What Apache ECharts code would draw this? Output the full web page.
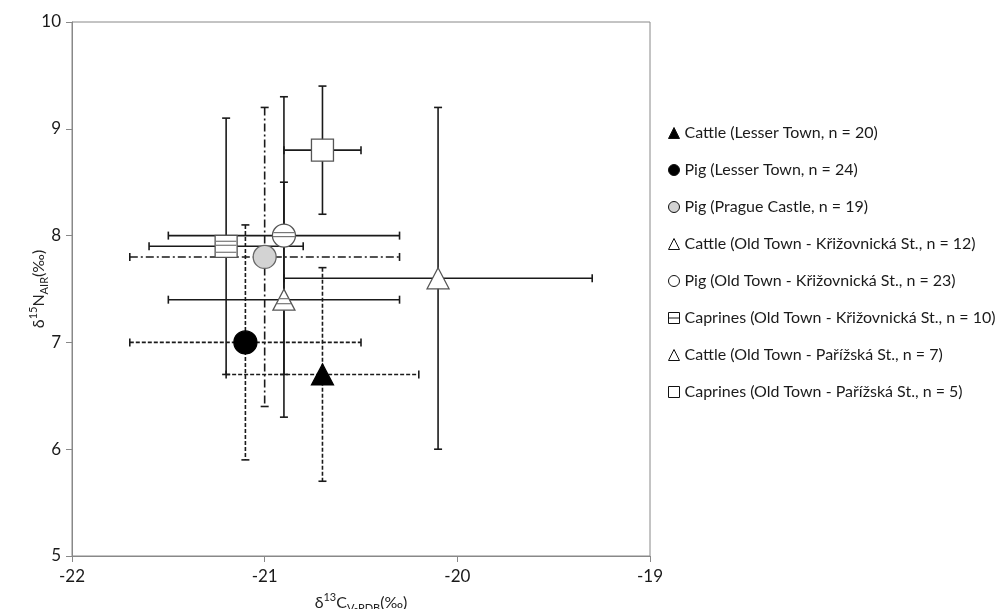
<!DOCTYPE html>
<html>
<head>
<meta charset="utf-8">
<script src="https://cdn.jsdelivr.net/npm/echarts@6/dist/echarts.min.js"></script>
<style>html,body{margin:0;padding:0;background:#fff}#c{width:1005px;height:609px}</style>
</head>
<body>
<div id="c"></div>
<script>
// ---- data ----
const groupNames = [
  'Cattle (Lesser Town, n = 20)',
  'Pig (Lesser Town, n = 24)',
  'Pig (Prague Castle, n = 19)',
  'Cattle (Old Town - Křižovnická St., n = 12)',
  'Pig (Old Town - Křižovnická St., n = 23)',
  'Caprines (Old Town - Křižovnická St., n = 10)',
  'Cattle (Old Town - Pařížská St., n = 7)',
  'Caprines (Old Town - Pařížská St., n = 5)'
];
const d13C   = [-20.7, -21.1, -21.0, -20.9, -20.9, -21.2, -20.1, -20.7];
const d15N   = [6.7, 7.0, 7.8, 7.4, 8.0, 7.9, 7.6, 8.8];
const sdC    = [0.5, 0.6, 0.7, 0.6, 0.6, 0.4, 0.8, 0.2];
const sdN    = [1.0, 1.1, 1.4, 1.1, 1.3, 1.2, 1.6, 0.6];
const xTicks = [-22, -21, -20, -19];
const yTicks = [5, 6, 7, 8, 9, 10];

// ---- styles (not data) ----
const FONT = 'Lato';
const styles = [
  {shape:'triangle', fill:'#000', stroke:'#000', dash:[4,2], stripes:false, icon:'triangle'},
  {shape:'circle',   fill:'#000', stroke:'#000', dash:[4,2], stripes:false, icon:'circle'},
  {shape:'circle',   fill:'#d3d3d3', stroke:'#666', dash:[8,3,2,3], stripes:false, icon:'circle'},
  {shape:'triangle', fill:'#fff', stroke:'#555', dash:null, stripes:true, icon:'triangle'},
  {shape:'circle',   fill:'#fff', stroke:'#555', dash:null, stripes:true, icon:'circle'},
  {shape:'square',   fill:'#fff', stroke:'#555', dash:null, stripes:true, icon:'path://M0,0 L10,0 L10,10 L0,10 Z M0,5 L10,5'},
  {shape:'triangle', fill:'#fff', stroke:'#555', dash:null, stripes:false, icon:'triangle'},
  {shape:'square',   fill:'#fff', stroke:'#555', dash:null, stripes:false, icon:'rect'}
];

function makeRender(st) {
  return function (params, api) {
    const x = api.value(0), y = api.value(1), sx = api.value(2), sy = api.value(3);
    const c = api.coord([x, y]);
    const l = api.coord([x - sx, y]), r = api.coord([x + sx, y]);
    const t = api.coord([x, y + sy]), b = api.coord([x, y - sy]);
    const cap = 4;
    const lineStyle = {stroke: '#1a1a1a', lineWidth: 1.6, lineDash: st.dash};
    const capStyle = {stroke: '#1a1a1a', lineWidth: 1.6};
    const ch = [];
    const L = (x1, y1, x2, y2, s, z2) => ch.push({type: 'line', z2: z2 || 0, shape: {x1, y1, x2, y2}, style: s});
    L(l[0], l[1], r[0], r[1], lineStyle);
    L(t[0], t[1], b[0], b[1], lineStyle);
    L(l[0], l[1] - cap, l[0], l[1] + cap, capStyle);
    L(r[0], r[1] - cap, r[0], r[1] + cap, capStyle);
    L(t[0] - cap, t[1], t[0] + cap, t[1], capStyle);
    L(b[0] - cap, b[1], b[0] + cap, b[1], capStyle);
    const ms = {fill: st.fill, stroke: st.stroke, lineWidth: 1.3};
    const stripeStyle = {stroke: '#777', lineWidth: 1.2};
    const cx = c[0], cy = c[1];
    if (st.shape === 'circle') {
      const R = 11.5;
      ch.push({type: 'circle', z2: 100, shape: {cx, cy, r: R}, style: ms});
      if (st.stripes) {
        [-3, 1].forEach(dy => {
          const hw = Math.sqrt(R * R - dy * dy) - 0.5;
          L(cx - hw, cy + dy, cx + hw, cy + dy, stripeStyle, 101);
        });
      }
    } else if (st.shape === 'triangle') {
      const W = 22, H = 21;
      ch.push({type: 'polygon', z2: 100, shape: {points: [[cx, cy - H / 2], [cx - W / 2, cy + H / 2], [cx + W / 2, cy + H / 2]]}, style: ms});
      if (st.stripes) {
        [-1, 4].forEach(dy => {
          const hw = (W / 2) * (dy + H / 2) / H - 0.5;
          L(cx - hw, cy + dy, cx + hw, cy + dy, stripeStyle, 101);
        });
      }
    } else {
      const S = 22;
      ch.push({type: 'rect', z2: 100, shape: {x: cx - S / 2, y: cy - S / 2, width: S, height: S}, style: ms});
      if (st.stripes) {
        [-5, -1, 6].forEach(dy => L(cx - S / 2 + 0.7, cy + dy, cx + S / 2 - 0.7, cy + dy, stripeStyle, 101));
      }
    }
    return {type: 'group', children: ch};
  };
}

const series = groupNames.map((name, i) => ({
  type: 'custom',
  name: name,
  clip: false,
  itemStyle: {color: styles[i].fill, borderColor: '#000', borderWidth: 1},
  renderItem: makeRender(styles[i]),
  encode: {x: 0, y: 1},
  data: [[d13C[i], d15N[i], sdC[i], sdN[i]]]
}));

const richName = {
  a: {fontFamily: FONT, fontSize: 16, color: '#222', lineHeight: 22},
  sup: {fontFamily: FONT, fontSize: 11, color: '#222', verticalAlign: 'top', lineHeight: 22},
  sub: {fontFamily: FONT, fontSize: 11, color: '#222', verticalAlign: 'bottom', lineHeight: 22}
};

const chart = echarts.init(document.getElementById('c'), null, {renderer: 'canvas'});
chart.setOption({
  animation: false,
  backgroundColor: '#fff',
  grid: {left: 72, top: 22, width: 578, height: 534, show: true, borderColor: '#888', borderWidth: 1,
         containLabel: false, outerBoundsMode: 'none'},
  legend: {
    orient: 'vertical', left: 663, top: 120, itemWidth: 11, itemHeight: 11, itemGap: 21, itemTextGap: 6,
    textStyle: {fontFamily: FONT, fontSize: 16, color: '#1a1a1a'},
    data: groupNames.map((n, i) => ({
      name: n, icon: styles[i].icon,
      itemStyle: {color: styles[i].fill, borderColor: '#111', borderWidth: 1}
    }))
  },
  xAxis: {
    type: 'value', min: xTicks[0], max: xTicks[xTicks.length - 1], interval: 1,
    splitLine: {show: false},
    axisLine: {show: true, lineStyle: {color: '#888'}},
    axisTick: {show: true, length: 6, lineStyle: {color: '#888'}},
    axisLabel: {fontFamily: FONT, fontSize: 17, color: '#1a1a1a', margin: 12},
    name: '{a|δ}{sup|13}{a|C}{sub|V-PDB}{a|(‰)}',
    nameLocation: 'middle', nameGap: 36, nameMoveOverlap: false,
    nameTextStyle: {rich: richName}
  },
  yAxis: {
    type: 'value', min: yTicks[0], max: yTicks[yTicks.length - 1], interval: 1,
    splitLine: {show: false},
    axisLine: {show: true, lineStyle: {color: '#888'}},
    axisTick: {show: true, length: 6, lineStyle: {color: '#888'}},
    axisLabel: {fontFamily: FONT, fontSize: 17, color: '#1a1a1a', margin: 11},
    name: '{a|δ}{sup|15}{a|N}{sub|AIR}{a|(‰)}',
    nameLocation: 'middle', nameGap: 22, nameMoveOverlap: false,
    nameTextStyle: {rich: richName}
  },
  series: series
});
</script>
</body>
</html>
